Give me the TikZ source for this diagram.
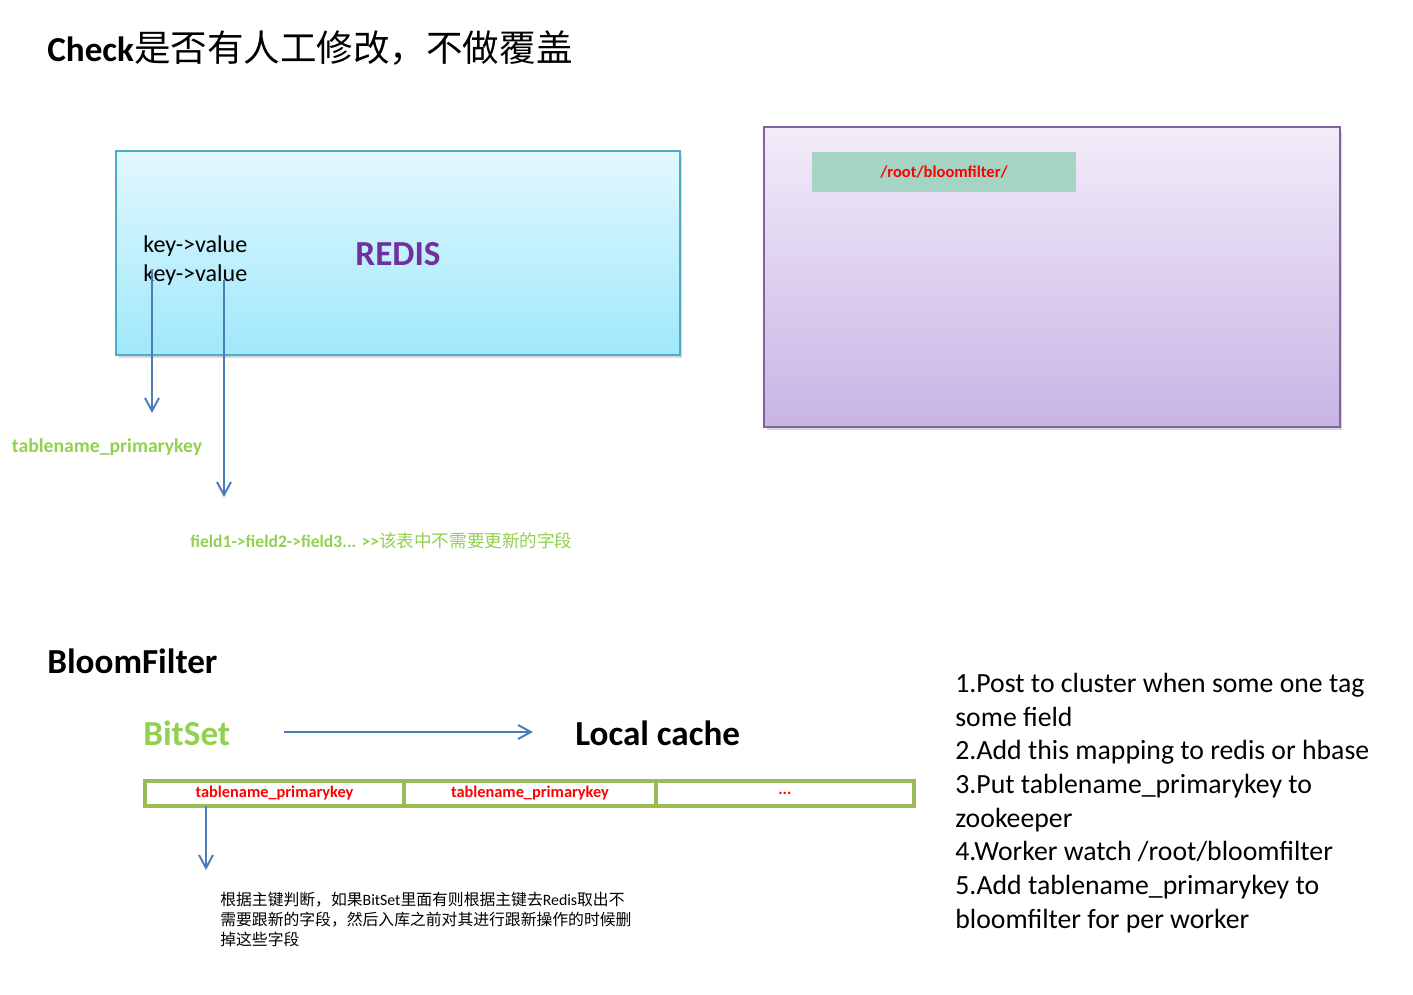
\documentclass[tikz,border=0pt]{standalone}
\usepackage{fontspec}
\setmainfont{Carlito}
\newfontfamily\cjk{Noto Sans CJK SC}
\usetikzlibrary{arrows.meta,positioning,shadows}
\definecolor{redisline}{RGB}{75,172,198}
\definecolor{redistop}{RGB}{226,248,254}
\definecolor{redisbot}{RGB}{160,232,251}
\definecolor{zkline}{RGB}{128,100,162}
\definecolor{zktop}{RGB}{242,236,250}
\definecolor{zkbot}{RGB}{200,180,228}
\definecolor{pathfill}{RGB}{166,212,196}
\definecolor{keygreen}{RGB}{146,208,80}
\definecolor{bargreen}{RGB}{155,187,89}
\definecolor{arrowblue}{RGB}{74,126,187}
\definecolor{redispurple}{RGB}{112,48,160}

\begin{document}
\begin{tikzpicture}[x=0.02cm,y=-0.02cm,
  txt/.style={inner sep=0pt,anchor=west},
  heading/.style={txt,font=\fontsize{20}{24}\selectfont\bfseries},
  arr/.style={-{Straight Barb[length=2.6mm,width=2.8mm]},line width=1.1pt,draw=arrowblue},
  cell/.style={draw=bargreen,line width=2pt,outer sep=0pt,minimum height=0.5cm,inner sep=0pt,
    font=\fontsize{9.3}{11}\selectfont\bfseries,text=red},
  shade/.style={drop shadow={shadow xshift=0.05cm,shadow yshift=-0.07cm,opacity=.3}}]
\useasboundingbox (0,0) rectangle (1413,994);

% top part
\node[heading] (title) at (47,48) {Check{\cjk\fontsize{20.8}{25}\selectfont\mdseries 是否有人工修改，不做覆盖}};

\node[shade,draw=redisline,line width=1.2pt,top color=redistop,bottom color=redisbot,
  minimum width=11.28cm,minimum height=4.08cm] (redis) at (398,253) {};
\node[txt,font=\fontsize{20}{24}\selectfont\bfseries,text=redispurple,anchor=center] (redisname) at (398,254) {REDIS};
\node[txt,font=\fontsize{13.7}{16.4}\selectfont] (kv1) at (143,246) {key->value};
\node[txt,font=\fontsize{13.7}{16.4}\selectfont] (kv2) at (143,275) {key->value};

\node[txt,font=\fontsize{11.2}{13}\selectfont\bfseries,text=keygreen,anchor=center] (tpk) at (107,447) {tablename\_primarykey};
\node[txt,font=\fontsize{10}{12}\selectfont,text=keygreen] (fields) at (190,541)
  {\bfseries field1->field2->field3... >{}>{\cjk\mdseries 该表中不需要更新的字段}};
\coordinate (k1) at (152,270);
\coordinate (k2) at (224,280);
\draw[arr] (k1) -- (k1 |- 0,413);
\draw[arr] (k2) -- (k2 |- 0,497);

\node[shade,draw=zkline,line width=1.2pt,top color=zktop,bottom color=zkbot,
  minimum width=11.52cm,minimum height=6cm] (zk) at (1052,277) {};
\node[fill=pathfill,minimum width=5.28cm,minimum height=0.8cm,inner sep=0pt,
  font=\fontsize{9.4}{11}\selectfont\bfseries,text=red] (zkpath) at (944,172) {/root/bloomfilter/};

% bottom part
\node[heading] (bloom) at (47,661) {BloomFilter};
\node[heading,text=keygreen] (bitset) at (143,733) {BitSet};
\node[heading] (local) at (575,733) {Local cache};
\draw[arr] ([xshift=1.08cm,yshift=0.02cm]bitset.east) -- ([xshift=-0.84cm,yshift=0.02cm]local.west);

\node[cell,minimum width=5.18cm] (cell1) at (274.5,793.5) {tablename\_primarykey};
\node[cell,minimum width=5.04cm,right=0pt of cell1] (cell2) {tablename\_primarykey};
\node[cell,minimum width=5.16cm,right=0pt of cell2] (cell3) {...};
\coordinate (c1) at (206,806);
\draw[arr] (c1) -- (c1 |- 0,870);

\node[inner sep=0pt,anchor=north west,align=left,font=\cjk\fontsize{9}{11.2}\selectfont] (note) at (220,892)
  {根据主键判断，如果{\rmfamily BitSet}里面有则根据主键去{\rmfamily Redis}取出不\\
   需要跟新的字段，然后入库之前对其进行跟新操作的时候删\\
   掉这些字段};

\node[inner sep=0pt,anchor=north west,align=left,font=\fontsize{15.8}{19.15}\selectfont] (steps) at (955,673)
  {1.Post to cluster when some one tag\\
   some field\\
   2.Add this mapping to redis or hbase\\
   3.Put tablename\_primarykey to\\
   zookeeper\\
   4.Worker watch /root/bloomfilter\\
   5.Add tablename\_primarykey to\\
   bloomfilter for per worker};
\end{tikzpicture}
\end{document}
